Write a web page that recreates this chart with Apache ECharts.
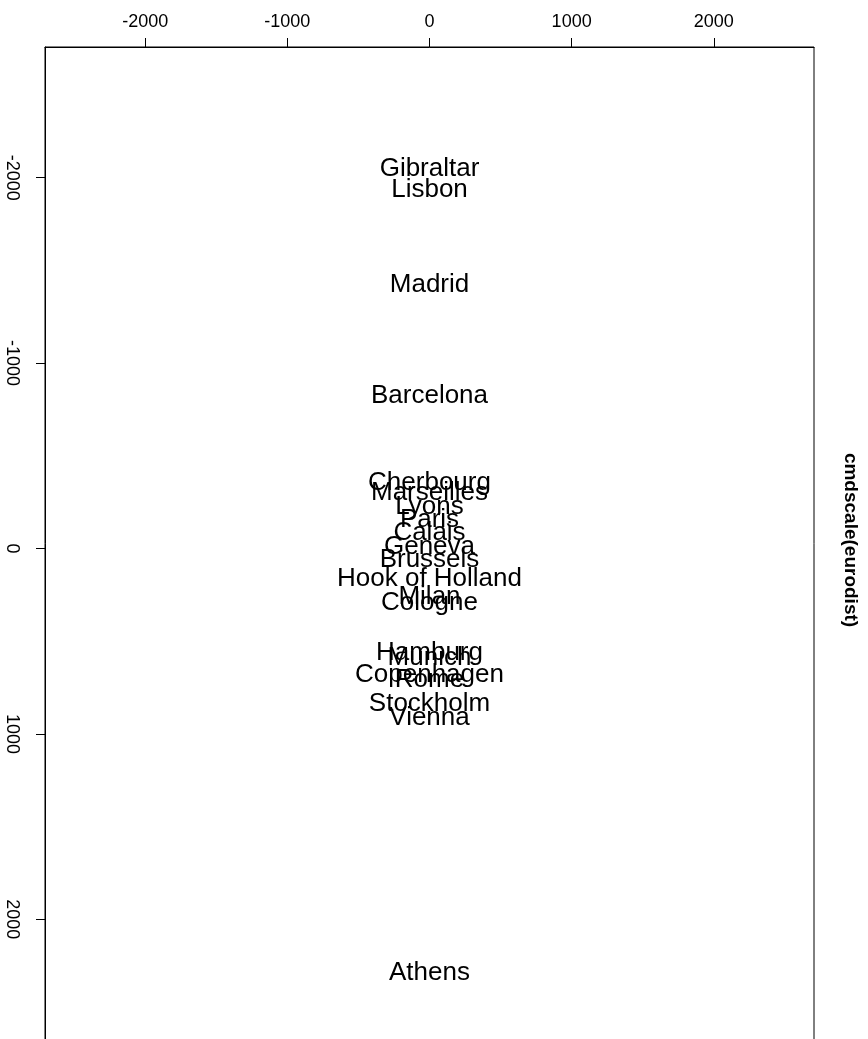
<!DOCTYPE html>
<html>
<head>
<meta charset="utf-8">
<script src="https://cdn.jsdelivr.net/npm/echarts@6/dist/echarts.min.js"></script>
<style>
  html, body { margin: 0; padding: 0; background: #fff; }
  #chart { width: 868px; height: 1039px; }
</style>
</head>
<body>
<div id="chart"></div>
<script>
// city names (alphabetical, as drawn)
const cities = [
  "Athens", "Barcelona", "Brussels", "Calais", "Cherbourg", "Cologne",
  "Copenhagen", "Geneva", "Gibraltar", "Hamburg", "Hook of Holland",
  "Lisbon", "Lyons", "Madrid", "Marseilles", "Milan", "Munich", "Paris",
  "Rome", "Stockholm", "Vienna"
];
// vertical position of each label (first coordinate)
const coord1 = [
  2290, -825, 59, -83, -352, 294,
  682, -9, -2048, 561, 165,
  -1935, -226, -1423, -299, 261, 588, -157,
  709, 839, 911
];
// horizontal position of each label
const coordX = [
  0, 0, 0, 0, 0, 0,
  0, 0, 0, 0, 0,
  0, 0, 0, 0, 0, 0, 0,
  0, 0, 0
];
const ticks = [-2000, -1000, 0, 1000, 2000];
const axisLimit = 2705;

const font = '"Liberation Sans", Arial, Helvetica, sans-serif';

const chart = echarts.init(document.getElementById("chart"));

const points = cities.map((name, i) => ({ name, value: [coordX[i], coord1[i]] }));

chart.setOption({
  animation: false,
  backgroundColor: "#fff",
  grid: {
    left: 45,
    top: 47,
    width: 769,
    height: 1003,
    containLabel: false,
    outerBoundsMode: "none",
    show: true,
    borderColor: "#000",
    borderWidth: 1,
  },
  xAxis: {
    type: "value",
    position: "top",
    min: -axisLimit,
    max: axisLimit,
    axisLine: { show: true, onZero: false, lineStyle: { color: "#000", width: 1 } },
    axisTick: { show: true, length: 9, customValues: ticks, lineStyle: { color: "#000" } },
    axisLabel: {
      customValues: ticks,
      formatter: (v) => String(v),
      margin: 16,
      color: "#000",
      fontSize: 18,
      fontFamily: font,
    },
    splitLine: { show: false },
  },
  yAxis: {
    type: "value",
    inverse: true,
    min: -axisLimit,
    max: axisLimit,
    axisLine: { show: true, onZero: false, lineStyle: { color: "#000", width: 1 } },
    axisTick: { show: true, length: 9, customValues: ticks, lineStyle: { color: "#000" } },
    axisLabel: {
      customValues: ticks,
      formatter: (v) => String(v),
      rotate: -90,
      margin: 24,
      color: "#000",
      fontSize: 18,
      fontFamily: font,
    },
    splitLine: { show: false },
  },
  graphic: [
    {
      type: "text",
      x: 850,
      y: 540,
      rotation: -Math.PI / 2,
      style: {
        text: "cmdscale(eurodist)",
        align: "center",
        verticalAlign: "middle",
        fill: "#000",
        font: "bold 19px " + font,
      },
    },
  ],
  series: [
    {
      type: "scatter",
      data: points,
      symbolSize: 1,
      itemStyle: { color: "rgba(255,255,255,0)", opacity: 1 },
      label: {
        show: true,
        position: "inside",
        offset: [0, 3],
        formatter: (p) => p.name,
        color: "#000",
        textBorderWidth: 0,
        fontSize: 26,
        fontFamily: font,
        align: "center",
        verticalAlign: "middle",
      },
      labelLayout: { hideOverlap: false },
      emphasis: { disabled: true },
    },
  ],
});
</script>
</body>
</html>
